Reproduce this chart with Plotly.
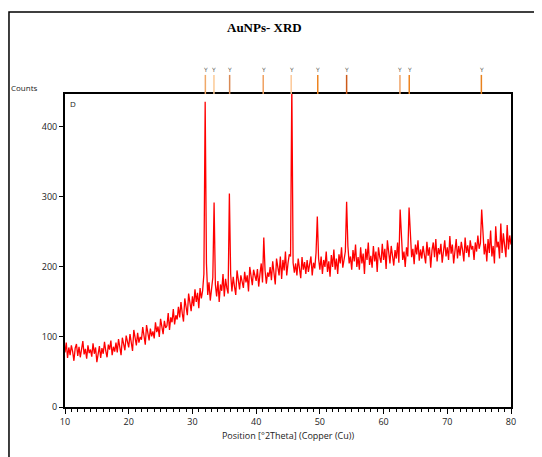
import numpy as np
import plotly.graph_objects as go

# scan: 10 to 80 deg 2theta, 0.2 deg step
two_theta_start = 10.0
two_theta_step = 0.2
counts = [
    78, 92, 70, 85, 74, 88, 79, 66, 84, 90,
    73, 86, 71, 80, 94, 75, 83, 69, 88, 77,
    82, 72, 91, 76, 85, 64, 79, 87, 70, 84,
    76, 93, 80, 71, 89, 82, 95, 74, 86, 79,
    92, 78, 97, 84, 74, 99, 87, 81, 102, 90,
    85, 104, 93, 80, 110, 97, 88, 106, 92, 100,
    96, 114, 99, 89, 117, 103, 95, 112, 101, 108,
    98, 121, 107, 115, 100, 126, 111, 104, 123, 113,
    116, 134, 110, 128, 121, 140, 118, 131, 125, 143,
    128, 150, 134, 122, 155, 140, 131, 162, 146, 137,
    158, 144, 168, 150, 163, 141, 170, 155, 166, 190,
    436, 205, 160, 178, 152, 171, 185, 292, 175, 158,
    180, 150, 175, 166, 190, 158, 183, 170, 162, 305,
    190, 165, 186, 172, 160, 195, 176, 168, 188, 181,
    170, 193, 178, 188, 165, 200, 182, 174, 196, 185,
    180, 197, 172, 190, 205, 178, 242, 195, 176, 192,
    186, 200, 181, 208, 190, 175, 212, 196, 188, 215,
    183, 210, 195, 222, 188, 205, 218, 215, 460, 206,
    192, 205, 188, 212, 199, 184, 214, 196, 207, 190,
    210, 193, 204, 215, 188, 206, 198, 220, 272, 212,
    196, 215, 190, 210, 200, 222, 193, 208, 186, 217,
    200, 225, 196, 212, 190, 218, 205, 228, 199, 215,
    222, 293, 230, 205, 215, 196, 224, 208, 232, 200,
    214, 196, 228, 205, 219, 190, 226, 210, 235, 203,
    216, 199, 230, 208, 222, 193, 228, 214, 206, 233,
    210, 226, 197, 238, 215, 205, 230, 218, 202, 224,
    212, 235, 206, 282, 240, 210, 222, 200, 228, 215,
    285, 245, 214, 226, 204, 232, 218, 238, 209, 225,
    212, 230, 220, 205, 236, 216, 228, 199, 224, 235,
    214, 240, 208, 227, 218, 233, 206, 226, 238, 215,
    228, 210, 244, 219, 232, 205, 226, 240, 212, 230,
    216, 236, 224, 208, 242, 220, 231, 214, 238, 225,
    230, 210, 235, 222, 245, 226, 234, 282, 250, 218,
    233, 208, 240, 220, 252, 215, 230, 205, 258, 228,
    236, 212, 262, 220, 248, 230, 214, 260, 225, 245,
    232,
]
two_theta = two_theta_start + two_theta_step * np.arange(len(counts))

# reference peak list markers above the plot
ref_peaks = [32.03, 33.38, 35.84, 41.11, 45.5, 49.67, 54.2, 62.57, 64.03, 75.35]
ref_colors = ['#f0a868', '#fcca96', '#d98a55', '#f0a060', '#fcc898',
              '#ee8420', '#cc5a1a', '#f0a468', '#ee8420', '#e8821e']

fig = go.Figure()
fig.add_trace(go.Scatter(x=two_theta, y=counts, mode='lines',
                         line=dict(color='#ff0000', width=1.3), showlegend=False))

tick_font = dict(family='Open Sans, DejaVu Sans, sans-serif', size=9, color='#222')

fig.update_xaxes(range=[10, 80], dtick=10, tick0=10, ticks='outside', ticklen=5,
                 tickwidth=1, tickcolor='black', showgrid=False, zeroline=False,
                 showline=True, linewidth=2, linecolor='black', mirror=True,
                 tickfont=tick_font,
                 minor=dict(dtick=1, ticks='outside', ticklen=3, tickcolor='black'),
                 title=dict(text='Position [°2Theta] (Copper (Cu))', font=tick_font, standoff=6))
fig.update_yaxes(range=[0, 447], dtick=100, ticks='outside', ticklen=4, tickwidth=1,
                 tickcolor='black', showgrid=False, zeroline=False,
                 showline=True, linewidth=2, linecolor='black', mirror=True,
                 tickfont=tick_font)

shapes = [dict(type='rect', xref='paper', yref='paper', x0=-0.1256, x1=1.3, y0=-0.4, y1=1.262,
               line=dict(color='black', width=1.5), layer='below')]
annotations = []
for pos, col in zip(ref_peaks, ref_colors):
    shapes.append(dict(type='line', xref='x', yref='paper', x0=pos, x1=pos, y0=1.0, y1=1.061,
                       line=dict(color=col, width=1.5)))
    annotations.append(dict(x=pos, y=1.061, xref='x', yref='paper', text='Y', showarrow=False,
                            yanchor='bottom', font=dict(family='DejaVu Sans', size=6, color='#555')))

annotations += [
    dict(x=0.448, y=1.214, xref='paper', yref='paper', text='<b>AuNPs- XRD</b>', showarrow=False,
         yanchor='middle',
         font=dict(family='Liberation Serif, Times New Roman, serif', size=13, color='black')),
    dict(x=-0.125, y=1.022, xref='paper', yref='paper', text='Counts', showarrow=False,
         xanchor='left', yanchor='middle',
         font=dict(family='Open Sans, DejaVu Sans, sans-serif', size=8, color='#222')),
    dict(x=0.006, y=0.995, xref='paper', yref='paper', text='D', showarrow=False,
         xanchor='left', yanchor='top', font=dict(family='Open Sans, DejaVu Sans, sans-serif', size=8, color='#222')),
]

# the page body adds an 8px offset, margins account for it
fig.update_layout(width=542, height=457, margin=dict(l=57, r=39, t=86, b=58),
                  paper_bgcolor='white', plot_bgcolor='white',
                  shapes=shapes, annotations=annotations)

fig.write_html("out.html")
